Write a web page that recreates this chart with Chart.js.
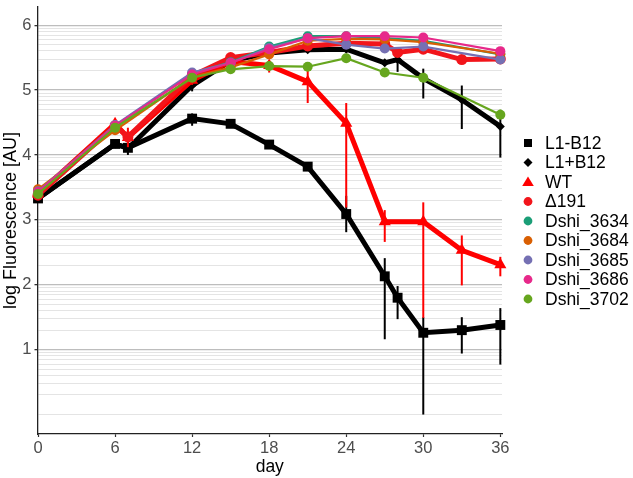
<!DOCTYPE html>
<html><head><meta charset="utf-8">
<script src="https://cdn.jsdelivr.net/npm/chart.js@4.4.1/dist/chart.umd.min.js"></script>
<style>html,body{margin:0;padding:0;background:#fff;}canvas{display:block;}</style>
</head><body>
<canvas id="c" width="633" height="478"></canvas>
<script>
// ---- data ----
const days = [0, 6, 7, 12, 15, 18, 21, 24, 27, 28, 30, 33, 36];
const xTicks = [0, 6, 12, 18, 24, 30, 36];
const yLabels = [1, 2, 3, 4, 5, 6];
const seriesNames = ['L1-B12', 'L1+B12', 'WT', 'Δ191', 'Dshi_3634', 'Dshi_3684', 'Dshi_3685', 'Dshi_3686', 'Dshi_3702'];

const l1Minus     = [3.33, 4.17, 4.11, 4.56, 4.48, 4.16, 3.82, 3.09, 2.13, 1.80, 1.26, 1.30, 1.38];
const l1MinusLow  = [null, 4.12, 4.00, 4.45, 4.43, 4.12, 3.76, 2.81, 1.16, 1.47, 0.00, 0.94, 0.77];
const l1MinusHigh = [null, 4.22, 4.22, 4.64, 4.53, 4.20, 3.88, 3.37, 2.41, 1.98, 1.50, 1.50, 1.64];

const l1Plus      = [3.33, 4.17, 4.10, 5.07, 5.45, 5.57, 5.62, 5.63, 5.42, 5.47, 5.18, 4.85, 4.44];
const l1PlusLow   = [null, null, null, 4.98, null, null, 5.57, 5.59, 5.37, 5.28, 4.87, 4.40, 3.96];
const l1PlusHigh  = [null, null, null, 5.15, null, null, 5.66, 5.67, 5.46, 5.55, 5.33, 5.07, 4.59];

const wt          = [3.40, 4.48, 4.27, 5.15, 5.44, 5.38, 5.13, 4.49, 2.97, null, 2.97, 2.53, 2.31];
const wtLow       = [null, 4.42, 4.12, 5.08, null, 5.27, 4.80, 3.19, 2.66, null, 1.49, 1.99, 2.13];
const wtHigh      = [null, 4.55, 4.42, 5.22, null, 5.45, 5.30, 4.80, 3.15, null, 3.27, 2.76, 2.43];

const d191        = [3.38, 4.45, 4.28, 5.22, 5.50, 5.58, 5.68, 5.72, 5.71, 5.58, 5.63, 5.47, 5.48];

const dshi3634    = [3.42, 4.45, null, 5.25, 5.43, 5.67, 5.83, 5.83, 5.80, null, 5.76, null, 5.55];
const dshi3684    = [3.47, 4.38, null, 5.20, 5.35, 5.55, 5.76, 5.79, 5.78, null, 5.74, null, 5.56];
const dshi3685    = [3.44, 4.46, null, 5.27, 5.42, 5.65, 5.80, 5.70, 5.64, null, 5.67, null, 5.47];
const dshi3685Low = [null, null, null, null, null, null, 5.74, 5.64, null, null, null, null, null];
const dshi3685High= [null, null, null, null, null, null, 5.86, 5.76, null, null, null, null, null];
const dshi3686    = [3.43, 4.45, null, 5.24, 5.42, 5.63, 5.80, 5.83, 5.83, null, 5.81, null, 5.60];
const dshi3702    = [3.40, 4.42, null, 5.19, 5.32, 5.37, 5.36, 5.49, 5.27, null, 5.19, null, 4.62];
const dshi3702Low = [null, null, null, null, null, 5.30, null, null, null, null, null, null, 4.55];
const dshi3702High= [null, null, null, null, null, 5.44, null, null, null, null, null, null, 4.70];

// ---- styling ----
const FONT = "'Liberation Sans', Arial, Helvetica, sans-serif";
const colors = ['#000000', '#000000', '#FF0000', '#F2151B', '#1B9E77', '#D95F02', '#7570B3', '#E7298A', '#66A61E'];
const shapes = ['rect', 'rectRot', 'triangle', 'circle', 'circle', 'circle', 'circle', 'circle', 'circle'];
const radii = [7, 4.5, 7, 5.5, 5, 5, 5, 5, 5];
const widths = [5, 5, 5, 5, 2.2, 2.2, 2.2, 2.2, 2.2];

const values = [l1Minus, l1Plus, wt, d191, dshi3634, dshi3684, dshi3685, dshi3686, dshi3702];
const lows = [l1MinusLow, l1PlusLow, wtLow, null, null, null, dshi3685Low, null, dshi3702Low];
const highs = [l1MinusHigh, l1PlusHigh, wtHigh, null, null, null, dshi3685High, null, dshi3702High];

function toPoints(arr) {
  const out = [];
  arr.forEach((v, i) => { if (v !== null) out.push({x: days[i], y: v}); });
  return out;
}

const datasets = seriesNames.map((name, k) => ({
  label: name,
  data: toPoints(values[k]),
  borderColor: colors[k],
  backgroundColor: colors[k],
  pointBackgroundColor: colors[k],
  pointBorderWidth: 0,
  pointStyle: shapes[k],
  pointRadius: radii[k],
  borderWidth: widths[k],
  tension: 0,
  spanGaps: true,
  clip: false,
  order: seriesNames.length - k,
  errLow: lows[k],
  errHigh: highs[k]
}));

// minor log grid positions
const yGrid = [];
for (let n = 0; n <= 6; n++) {
  for (let k = 1; k <= 9; k++) {
    const v = n + Math.log10(k);
    if (v <= 6.28) yGrid.push(v);
  }
}
const isMajor = v => yLabels.some(m => Math.abs(m - v) < 1e-9);

const errorBars = {
  id: 'errorBars',
  afterDatasetDraw(chart, args) {
    const ds = chart.data.datasets[args.index];
    if (!ds.errLow) return;
    const xs = chart.scales.x, ys = chart.scales.y, ctx = chart.ctx;
    ctx.save();
    ctx.strokeStyle = ds.borderColor;
    ctx.lineWidth = 2;
    ds.errLow.forEach((lo, i) => {
      const hi = ds.errHigh[i];
      if (lo === null || hi === null) return;
      const x = xs.getPixelForValue(days[i]);
      ctx.beginPath();
      ctx.moveTo(x, ys.getPixelForValue(lo));
      ctx.lineTo(x, ys.getPixelForValue(hi));
      ctx.stroke();
    });
    ctx.restore();
  }
};

const sideLegend = {
  id: 'sideLegend',
  afterDraw(chart) {
    const ctx = chart.ctx;
    const mx = chart.chartArea.right + 26;
    const tx = chart.chartArea.right + 43;
    const y0 = 143, step = 19.5;
    ctx.save();
    ctx.font = '17.5px ' + FONT;
    ctx.textBaseline = 'middle';
    ctx.textAlign = 'left';
    seriesNames.forEach((name, k) => {
      const y = y0 + k * step;
      ctx.fillStyle = colors[k];
      ctx.beginPath();
      if (shapes[k] === 'rect') {
        ctx.rect(mx - 4, y - 4, 8, 8);
      } else if (shapes[k] === 'rectRot') {
        ctx.moveTo(mx - 4.5, y); ctx.lineTo(mx, y - 4.5); ctx.lineTo(mx + 4.5, y); ctx.lineTo(mx, y + 4.5); ctx.closePath();
      } else if (shapes[k] === 'triangle') {
        ctx.moveTo(mx, y - 5.5); ctx.lineTo(mx + 5.8, y + 4); ctx.lineTo(mx - 5.8, y + 4); ctx.closePath();
      } else {
        ctx.arc(mx, y, 4.4, 0, Math.PI * 2);
      }
      ctx.fill();
      ctx.fillStyle = '#000';
      ctx.fillText(name, tx, y + 1);
    });
    ctx.restore();
  }
};

new Chart(document.getElementById('c'), {
  type: 'line',
  data: {datasets},
  plugins: [errorBars, sideLegend],
  options: {
    responsive: false,
    animation: false,
    layout: {padding: {top: 1, right: 131, left: 0, bottom: 0}},
    plugins: {legend: {display: false}, tooltip: {enabled: false}},
    scales: {
      x: {
        type: 'linear',
        min: -0.04,
        max: 36.13,
        afterBuildTicks: s => { s.ticks = xTicks.map(v => ({value: v})); },
        afterFit: s => { s.height = 44; s.paddingLeft = 0; s.paddingRight = 0; },
        grid: {drawOnChartArea: false, drawTicks: true, tickLength: 3, tickColor: '#333', tickWidth: 1.2},
        border: {color: '#222', width: 1.3},
        ticks: {color: '#4d4d4d', font: {family: FONT, size: 16.5}, padding: 2, maxRotation: 0, autoSkip: false},
        title: {display: true, text: 'day', color: '#000', font: {family: FONT, size: 17.5}, padding: 0}
      },
      y: {
        type: 'linear',
        min: -0.3,
        max: 6.28,
        afterBuildTicks: s => { s.ticks = yGrid.map(v => ({value: v})); },
        afterFit: s => { s.width = 37.5; s.paddingTop = 0; s.paddingBottom = 0; },
        grid: {
          color: c => (c.tick && isMajor(c.tick.value)) ? '#bdbdbd' : '#e4e4e4',
          lineWidth: c => (c.tick && isMajor(c.tick.value)) ? 1.3 : 1,
          tickColor: c => (c.tick && isMajor(c.tick.value)) ? '#333' : 'rgba(0,0,0,0)',
          tickLength: 3
        },
        border: {color: '#222', width: 1.3},
        ticks: {
          autoSkip: false,
          color: '#4d4d4d',
          font: {family: FONT, size: 16.5},
          padding: 3,
          callback: v => isMajor(v) && v >= 1 ? String(Math.round(v)) : ''
        },
        title: {display: true, text: 'log Fluorescence [AU]', color: '#000', font: {family: FONT, size: 18}, padding: 0}
      }
    }
  }
});
</script></body></html>
